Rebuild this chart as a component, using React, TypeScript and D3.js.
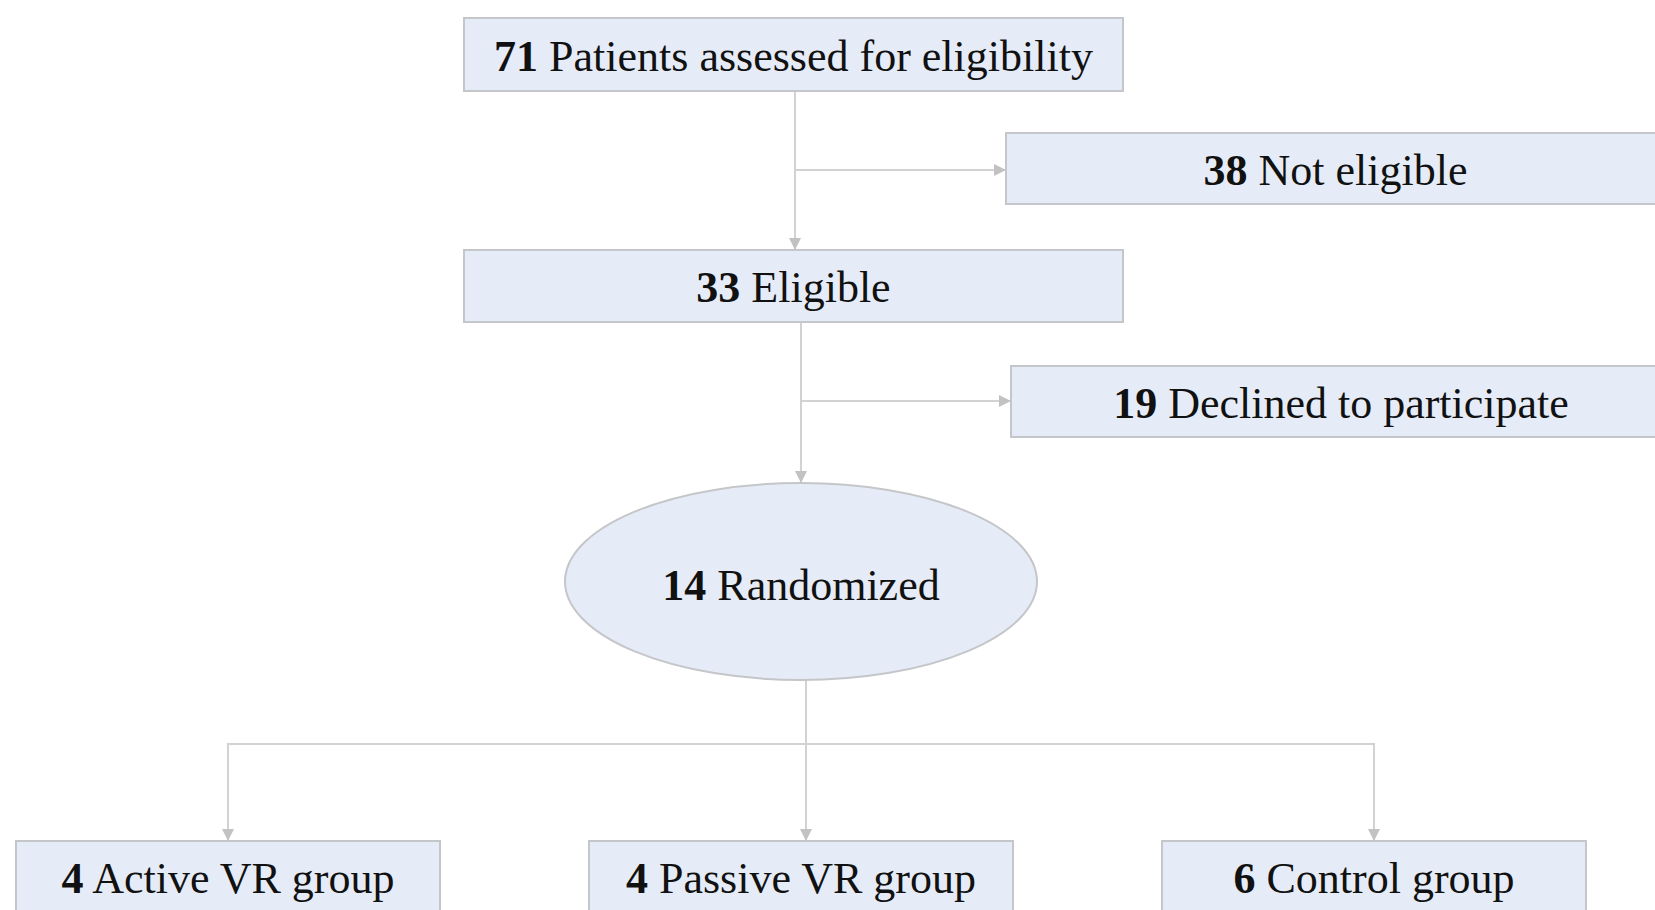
import React from 'react'
import * as d3 from 'd3'

// counts and labels of the flow
const counts = [71, 38, 33, 19, 14, 4, 4, 6]
const labels = [
  'Patients assessed for eligibility',
  'Not eligible',
  'Eligible',
  'Declined to participate',
  'Randomized',
  'Active VR group',
  'Passive VR group',
  'Control group',
]
// which node leads to which
const links: [number, number][] = [[0, 2], [0, 1], [2, 4], [2, 3], [4, 5], [4, 6], [4, 7]]

const W = 1655
const H = 910
const FILL = '#e6ecf7'
const EDGE = '#c4c6c9'
const LINE = '#d2d2d2'
const FS = 44

// layout of the nodes (x,y = top-left)
const layout = [
  { x: 464, y: 18, w: 659, h: 73 },
  { x: 1006, y: 133, w: 659, h: 71 },
  { x: 464, y: 250, w: 659, h: 72 },
  { x: 1011, y: 366, w: 660, h: 71 },
  { x: 565, y: 483, w: 472, h: 197, ellipse: true },
  { x: 16, y: 841, w: 424, h: 74 },
  { x: 589, y: 841, w: 424, h: 74 },
  { x: 1162, y: 841, w: 424, h: 74 },
]

// connector trunks
const trunkX = [795, 801, 806]
const branchY = [170, 401, 744]

const App = () => {
  const line = d3.line<[number, number]>()

  const paths: string[] = []
  const arrows: [number, number, string][] = []

  // first trunk: box0 -> box2, branch to box1
  const n = layout
  paths.push(line([[trunkX[0], n[0].y + n[0].h], [trunkX[0], n[2].y - 1]])!)
  arrows.push([trunkX[0], n[2].y, 'down'])
  paths.push(line([[trunkX[0], branchY[0]], [n[1].x - 1, branchY[0]]])!)
  arrows.push([n[1].x, branchY[0], 'right'])

  // second trunk: box2 -> ellipse, branch to box3
  paths.push(line([[trunkX[1], n[2].y + n[2].h], [trunkX[1], n[4].y - 1]])!)
  arrows.push([trunkX[1], n[4].y, 'down'])
  paths.push(line([[trunkX[1], branchY[1]], [n[3].x - 1, branchY[1]]])!)
  arrows.push([n[3].x, branchY[1], 'right'])

  // third: ellipse -> three groups
  paths.push(line([[trunkX[2], n[4].y + n[4].h], [trunkX[2], n[6].y - 1]])!)
  const leftX = n[5].x + n[5].w / 2
  const rightX = n[7].x + n[7].w / 2
  paths.push(line([[leftX, n[5].y - 1], [leftX, branchY[2]], [rightX, branchY[2]], [rightX, n[7].y - 1]])!)
  arrows.push([leftX, n[5].y, 'down'])
  arrows.push([trunkX[2], n[6].y, 'down'])
  arrows.push([rightX, n[7].y, 'down'])

  const arrowPath = (x: number, y: number, dir: string) => {
    const p = d3.path()
    if (dir === 'down') {
      p.moveTo(x, y); p.lineTo(x - 6, y - 12); p.lineTo(x + 6, y - 12)
    } else {
      p.moveTo(x, y); p.lineTo(x - 12, y - 6); p.lineTo(x - 12, y + 6)
    }
    p.closePath()
    return p.toString()
  }

  return (
    <svg width={W} height={H} style={{ position: 'absolute', left: 0, top: 0, background: '#fff' }}>
      <g fill="none" stroke={LINE} strokeWidth={2}>
        {paths.map((d, i) => <path key={i} d={d} />)}
      </g>
      <g fill="#c2c2c2">
        {arrows.map(([x, y, dir], i) => <path key={i} d={arrowPath(x, y, dir)} />)}
      </g>
      {layout.map((b, i) => {
        const cx = b.x + b.w / 2
        const cy = b.y + (i >= 5 ? 36 : b.h / 2)
        return (
          <g key={i}>
            {b.ellipse
              ? <ellipse cx={cx} cy={b.y + b.h / 2} rx={b.w / 2} ry={b.h / 2} fill={FILL} stroke={EDGE} strokeWidth={2} />
              : <rect x={b.x} y={b.y} width={b.w} height={b.h} fill={FILL} stroke={EDGE} strokeWidth={2} />}
            <text
              x={cx}
              y={cy + (b.ellipse ? 18 : 16)}
              textAnchor="middle"
              fontFamily="'Liberation Serif', 'Times New Roman', serif"
              fontSize={FS}
              fill="#111"
            >
              <tspan fontWeight="bold">{counts[i]}</tspan> {labels[i]}
            </text>
          </g>
        )
      })}
    </svg>
  )
}

export default App
